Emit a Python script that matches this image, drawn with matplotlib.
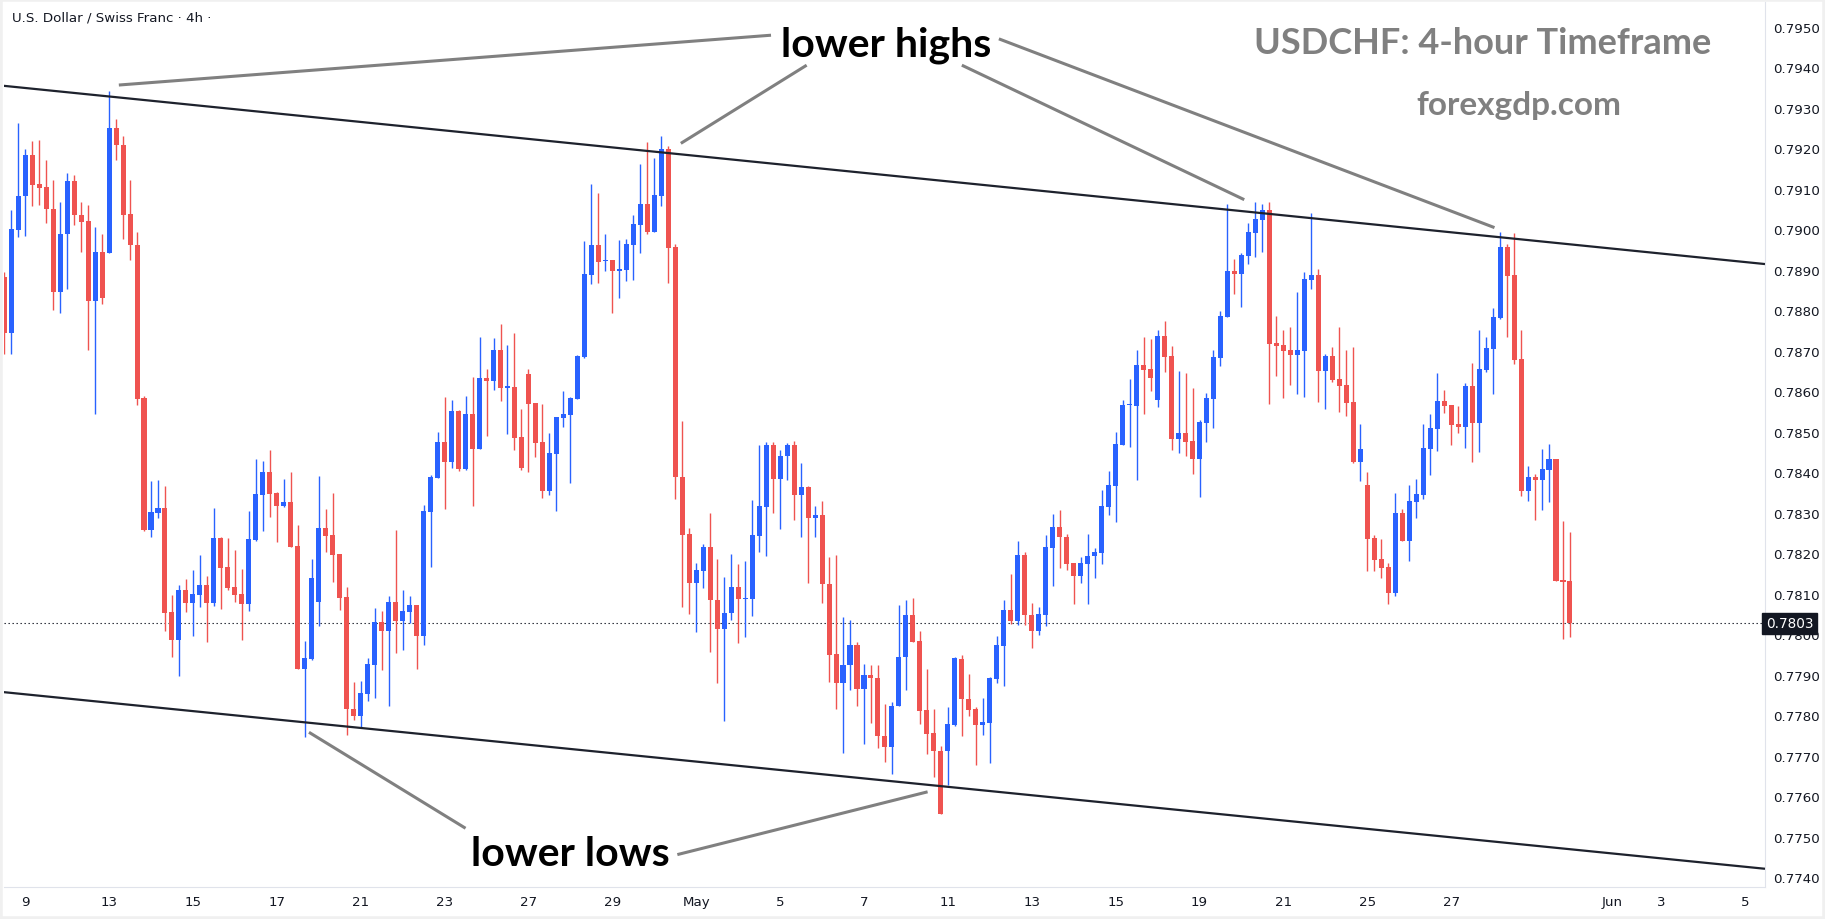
import matplotlib.pyplot as plt
import numpy as np

# 4h USDCHF candles (open, high, low, close)
opens = [
    0.78882, 0.78745, 0.78999, 0.79081, 0.79183, 0.79112, 0.79105, 0.79050, 0.78846, 0.78987,
    0.79119, 0.79036, 0.79020, 0.78824, 0.78944, 0.78942, 0.79250, 0.79208, 0.79037, 0.78961,
    0.78583, 0.78258, 0.78300, 0.78312, 0.78055, 0.77987, 0.78110, 0.78078, 0.78098, 0.78122,
    0.78078, 0.78237, 0.78167, 0.78116, 0.78099, 0.78075, 0.78233, 0.78344, 0.78400, 0.78348,
    0.78317, 0.78326, 0.78218, 0.77915, 0.77939, 0.78080, 0.78262, 0.78245, 0.78198, 0.78092,
    0.77816, 0.77799, 0.77852, 0.77924, 0.78030, 0.78009, 0.78079, 0.78033, 0.78055, 0.78072,
    0.77996, 0.78302, 0.78386, 0.78474, 0.78425, 0.78551, 0.78408, 0.78544, 0.78458, 0.78633,
    0.78626, 0.78702, 0.78609, 0.78610, 0.78487, 0.78642, 0.78571, 0.78475, 0.78354, 0.78446,
    0.78535, 0.78542, 0.78581, 0.78684, 0.78888, 0.78961, 0.78922, 0.78923, 0.78897, 0.78900,
    0.78962, 0.79011, 0.79062, 0.78993, 0.79083, 0.79198, 0.78956, 0.78389, 0.78248, 0.78127,
    0.78157, 0.78215, 0.78085, 0.78014, 0.78052, 0.78117, 0.78087, 0.78087, 0.78243, 0.78315,
    0.78467, 0.78383, 0.78439, 0.78467, 0.78343, 0.78364, 0.78286, 0.78294, 0.78125, 0.77951,
    0.77879, 0.77925, 0.77973, 0.77866, 0.77899, 0.77893, 0.77750, 0.77722, 0.77824, 0.77944,
    0.78047, 0.77983, 0.77813, 0.77756, 0.77713, 0.77713, 0.77776, 0.77938, 0.77841, 0.77816,
    0.77776, 0.77782, 0.77890, 0.77970, 0.78060, 0.78033, 0.78196, 0.78047, 0.78009, 0.78048,
    0.78213, 0.78265, 0.78241, 0.78175, 0.78145, 0.78174, 0.78192, 0.78201, 0.78315, 0.78367,
    0.78468, 0.78565, 0.78564, 0.78665, 0.78655, 0.78579, 0.78736, 0.78687, 0.78483, 0.78497,
    0.78477, 0.78433, 0.78521, 0.78581, 0.78682, 0.78783, 0.78897, 0.78889, 0.78935, 0.78991,
    0.79023, 0.79047, 0.78719, 0.78714, 0.78702, 0.78690, 0.78700, 0.78875, 0.78887, 0.78651,
    0.78687, 0.78630, 0.78615, 0.78573, 0.78426, 0.78368, 0.78237, 0.78186, 0.78167, 0.78103,
    0.78300, 0.78231, 0.78327, 0.78345, 0.78458, 0.78507, 0.78577, 0.78566, 0.78519, 0.78512,
    0.78613, 0.78522, 0.78653, 0.78705, 0.78781, 0.78956, 0.78887, 0.78679, 0.78354, 0.78389,
    0.78382, 0.78406, 0.78433, 0.78132, 0.78132,
]
highs = [
    0.78895, 0.79048, 0.79262, 0.79198, 0.79218, 0.79221, 0.79171, 0.79122, 0.79068, 0.79139,
    0.79134, 0.79068, 0.79060, 0.79005, 0.78988, 0.79341, 0.79272, 0.79230, 0.79122, 0.78993,
    0.78589, 0.78378, 0.78381, 0.78366, 0.78097, 0.78122, 0.78136, 0.78159, 0.78196, 0.78144,
    0.78312, 0.78240, 0.78237, 0.78208, 0.78161, 0.78304, 0.78432, 0.78428, 0.78455, 0.78350,
    0.78383, 0.78400, 0.78270, 0.77984, 0.78186, 0.78390, 0.78309, 0.78348, 0.78198, 0.78116,
    0.77882, 0.77884, 0.77941, 0.78065, 0.78057, 0.78094, 0.78257, 0.78109, 0.78094, 0.78072,
    0.78319, 0.78393, 0.78499, 0.78586, 0.78578, 0.78554, 0.78588, 0.78636, 0.78734, 0.78655,
    0.78731, 0.78766, 0.78714, 0.78744, 0.78556, 0.78655, 0.78571, 0.78568, 0.78498, 0.78537,
    0.78601, 0.78587, 0.78690, 0.78972, 0.79112, 0.79089, 0.78988, 0.78923, 0.78973, 0.78976,
    0.79035, 0.79161, 0.79215, 0.79176, 0.79230, 0.79206, 0.78963, 0.78526, 0.78262, 0.78176,
    0.78222, 0.78299, 0.78186, 0.78141, 0.78199, 0.78173, 0.78180, 0.78331, 0.78468, 0.78475,
    0.78474, 0.78455, 0.78472, 0.78477, 0.78423, 0.78367, 0.78317, 0.78328, 0.78191, 0.78196,
    0.78043, 0.78035, 0.77981, 0.77926, 0.77925, 0.77925, 0.77828, 0.77832, 0.78073, 0.78084,
    0.78089, 0.78008, 0.77914, 0.77816, 0.77724, 0.77820, 0.77944, 0.77949, 0.77902, 0.77820,
    0.77843, 0.77894, 0.77996, 0.78085, 0.78150, 0.78231, 0.78203, 0.78078, 0.78067, 0.78245,
    0.78297, 0.78306, 0.78248, 0.78175, 0.78191, 0.78248, 0.78213, 0.78356, 0.78403, 0.78499,
    0.78579, 0.78630, 0.78702, 0.78735, 0.78729, 0.78751, 0.78773, 0.78712, 0.78650, 0.78645,
    0.78608, 0.78529, 0.78596, 0.78702, 0.78798, 0.79062, 0.78926, 0.78941, 0.79015, 0.79067,
    0.79062, 0.79067, 0.78786, 0.78751, 0.78758, 0.78845, 0.78894, 0.79040, 0.78902, 0.78692,
    0.78709, 0.78758, 0.78702, 0.78709, 0.78519, 0.78400, 0.78245, 0.78235, 0.78177, 0.78349,
    0.78310, 0.78369, 0.78384, 0.78520, 0.78544, 0.78645, 0.78604, 0.78566, 0.78563, 0.78620,
    0.78670, 0.78751, 0.78734, 0.78805, 0.78993, 0.78963, 0.78990, 0.78751, 0.78416, 0.78396,
    0.78458, 0.78470, 0.78433, 0.78280, 0.78253,
]
lows = [
    0.78692, 0.78691, 0.78982, 0.78984, 0.79057, 0.79060, 0.79016, 0.78800, 0.78792, 0.78853,
    0.79010, 0.78944, 0.78703, 0.78545, 0.78816, 0.78942, 0.79171, 0.78977, 0.78925, 0.78567,
    0.78255, 0.78241, 0.78288, 0.78008, 0.77944, 0.77897, 0.78056, 0.77996, 0.78067, 0.77982,
    0.78069, 0.78063, 0.78110, 0.78080, 0.77986, 0.78058, 0.78231, 0.78255, 0.78290, 0.78228,
    0.78315, 0.78216, 0.77915, 0.77747, 0.77936, 0.78021, 0.78204, 0.78129, 0.78060, 0.77752,
    0.77789, 0.77772, 0.77836, 0.77843, 0.77912, 0.77823, 0.77954, 0.77962, 0.78028, 0.77915,
    0.77974, 0.78167, 0.78386, 0.78309, 0.78410, 0.78404, 0.78406, 0.78317, 0.78458, 0.78490,
    0.78604, 0.78577, 0.78494, 0.78456, 0.78406, 0.78401, 0.78438, 0.78337, 0.78345, 0.78305,
    0.78512, 0.78374, 0.78581, 0.78682, 0.78865, 0.78868, 0.78897, 0.78794, 0.78831, 0.78873,
    0.78875, 0.78942, 0.78988, 0.78993, 0.79058, 0.78867, 0.78333, 0.78068, 0.78050, 0.78006,
    0.78113, 0.77955, 0.77879, 0.77786, 0.78034, 0.77979, 0.77992, 0.78044, 0.78202, 0.78194,
    0.78299, 0.78260, 0.78382, 0.78283, 0.78241, 0.78127, 0.78241, 0.78078, 0.77881, 0.77816,
    0.77706, 0.77862, 0.77823, 0.77730, 0.77781, 0.77720, 0.77685, 0.77655, 0.77824, 0.77862,
    0.77981, 0.77779, 0.77705, 0.77647, 0.77555, 0.77629, 0.77773, 0.77749, 0.77799, 0.77677,
    0.77752, 0.77681, 0.77879, 0.77873, 0.78025, 0.78024, 0.78024, 0.77966, 0.77998, 0.78020,
    0.78118, 0.78164, 0.78158, 0.78075, 0.78127, 0.78075, 0.78140, 0.78174, 0.78294, 0.78276,
    0.78467, 0.78463, 0.78381, 0.78544, 0.78601, 0.78562, 0.78648, 0.78455, 0.78447, 0.78440,
    0.78396, 0.78340, 0.78475, 0.78509, 0.78662, 0.78783, 0.78840, 0.78808, 0.78914, 0.78931,
    0.78944, 0.78568, 0.78637, 0.78583, 0.78615, 0.78593, 0.78586, 0.78852, 0.78573, 0.78556,
    0.78623, 0.78549, 0.78539, 0.78423, 0.78378, 0.78157, 0.78157, 0.78140, 0.78075, 0.78095,
    0.78231, 0.78182, 0.78288, 0.78335, 0.78394, 0.78453, 0.78547, 0.78468, 0.78498, 0.78460,
    0.78426, 0.78451, 0.78648, 0.78594, 0.78778, 0.78735, 0.78668, 0.78342, 0.78330, 0.78283,
    0.78307, 0.78327, 0.78132, 0.77989, 0.77994,
]
closes = [
    0.78745, 0.79001, 0.79082, 0.79183, 0.79110, 0.79103, 0.79049, 0.78846, 0.78988, 0.79119,
    0.79034, 0.79019, 0.78824, 0.78944, 0.78830, 0.79250, 0.79207, 0.79036, 0.78960, 0.78582,
    0.78258, 0.78301, 0.78312, 0.78053, 0.77987, 0.78110, 0.78078, 0.78099, 0.78122, 0.78078,
    0.78237, 0.78164, 0.78115, 0.78097, 0.78075, 0.78235, 0.78346, 0.78400, 0.78347, 0.78317,
    0.78326, 0.78216, 0.77915, 0.77941, 0.78139, 0.78262, 0.78242, 0.78195, 0.78089, 0.77816,
    0.77799, 0.77855, 0.77926, 0.78030, 0.78009, 0.78079, 0.78033, 0.78057, 0.78072, 0.77996,
    0.78304, 0.78388, 0.78474, 0.78425, 0.78551, 0.78408, 0.78544, 0.78458, 0.78633, 0.78626,
    0.78702, 0.78609, 0.78610, 0.78485, 0.78411, 0.78568, 0.78473, 0.78354, 0.78448, 0.78537,
    0.78544, 0.78584, 0.78687, 0.78889, 0.78961, 0.78920, 0.78923, 0.78897, 0.78902, 0.78963,
    0.79013, 0.79062, 0.78993, 0.79084, 0.79198, 0.78954, 0.78389, 0.78245, 0.78127, 0.78158,
    0.78215, 0.78085, 0.78014, 0.78053, 0.78117, 0.78087, 0.78090, 0.78245, 0.78316, 0.78467,
    0.78383, 0.78440, 0.78467, 0.78343, 0.78364, 0.78286, 0.78294, 0.78125, 0.77949, 0.77879,
    0.77925, 0.77973, 0.77866, 0.77899, 0.77893, 0.77750, 0.77722, 0.77824, 0.77945, 0.78047,
    0.77981, 0.77811, 0.77754, 0.77713, 0.77555, 0.77778, 0.77941, 0.77839, 0.77813, 0.77776,
    0.77783, 0.77891, 0.77973, 0.78060, 0.78033, 0.78196, 0.78047, 0.78009, 0.78050, 0.78215,
    0.78265, 0.78239, 0.78174, 0.78145, 0.78175, 0.78193, 0.78202, 0.78317, 0.78368, 0.78470,
    0.78565, 0.78567, 0.78665, 0.78653, 0.78633, 0.78736, 0.78685, 0.78483, 0.78497, 0.78475,
    0.78433, 0.78524, 0.78583, 0.78684, 0.78786, 0.78897, 0.78889, 0.78936, 0.78993, 0.79025,
    0.79047, 0.78717, 0.78712, 0.78700, 0.78690, 0.78702, 0.78877, 0.78887, 0.78651, 0.78687,
    0.78628, 0.78613, 0.78571, 0.78425, 0.78457, 0.78236, 0.78184, 0.78164, 0.78103, 0.78300,
    0.78231, 0.78330, 0.78346, 0.78460, 0.78510, 0.78577, 0.78564, 0.78517, 0.78512, 0.78613,
    0.78522, 0.78655, 0.78707, 0.78783, 0.78956, 0.78885, 0.78678, 0.78354, 0.78389, 0.78382,
    0.78409, 0.78433, 0.78132, 0.78130, 0.78027,
]

# date labels on the time axis (bar index -> label)
tick_idx = [3, 15, 27, 39, 51, 63, 75, 87, 99, 111, 123, 135, 147, 159, 171, 183, 195, 207, 230, 237, 249]
tick_lbl = ['9', '13', '15', '17', '21', '23', '27', '29', 'May', '5', '7', '11', '13', '15',
            '19', '21', '25', '27', 'Jun', '3', '5']

price_ticks = np.arange(0.7740, 0.79505, 0.0010)

# drawn channel (bar index, price)
upper_x = [-0.6, 251.9]
upper_y = [0.79355, 0.78914]
lower_x = [-0.6, 251.9]
lower_y = [0.77858, 0.77421]

# grey pointer lines (bar index, price)
pointers = [
    ([16.4, 109.7], [0.79356, 0.79479]),
    ([114.8, 96.8], [0.79405, 0.79212]),
    ([137.0, 177.4], [0.79405, 0.79073]),
    ([142.3, 213.2], [0.79470, 0.79004]),
    ([43.6, 66.0], [0.77758, 0.77521]),
    ([96.3, 132.1], [0.77456, 0.77611]),
]

W, H = 1825, 920
BLUE = '#2962ff'
RED = '#ef5350'
TXT = '#131722'


def fx(px):
    return px / W


def fy(py):
    return 1 - py / H


fig = plt.figure(figsize=(W / 100, H / 100), dpi=100)
fig.patch.set_facecolor('white')

# plot area in pixels: x 4..1765, y 3..888
ax = fig.add_axes([fx(4), fy(888), (1765 - 4) / W, (888 - 3) / H])
ax.set_facecolor('white')

o = np.array(opens)
h = np.array(highs)
l = np.array(lows)
c = np.array(closes)
x = np.arange(len(o))
cols = np.where(c >= o, BLUE, RED)

ax.vlines(x, l, h, colors=cols, linewidth=1.0, zorder=2)
body = np.maximum(np.abs(c - o), 0.00003)
ax.bar(x, body, bottom=np.minimum(o, c), width=0.72, color=cols, linewidth=0, zorder=3)

ax.set_xlim(-0.03, 251.9)
ax.set_ylim(0.77376, 0.79561)

# channel lines
ax.plot(upper_x, upper_y, color='#1e222d', linewidth=1.6, zorder=4, solid_capstyle='butt')
ax.plot(lower_x, lower_y, color='#1e222d', linewidth=1.6, zorder=4, solid_capstyle='butt')

for px_, py_ in pointers:
    ax.plot(px_, py_, color='#808080', linewidth=2.2, zorder=4, solid_capstyle='butt')

# last price dotted line + badge
last = closes[-1]
ax.axhline(last, color=TXT, linewidth=0.8, linestyle=(0, (1.2, 2.4)), zorder=1)
ax.text(1.0 + 1 / 1761, last, '%.4f' % last, transform=ax.get_yaxis_transform(),
        ha='left', va='center', color='white', fontsize=9.8, zorder=10, clip_on=False,
        bbox=dict(boxstyle='square,pad=0.28', facecolor=TXT, edgecolor=TXT))

# axes styling
for s in ['top', 'left']:
    ax.spines[s].set_visible(False)
ax.spines['right'].set_color('#e0e3eb')
ax.spines['bottom'].set_color('#e0e3eb')
ax.yaxis.tick_right()
ax.set_yticks(price_ticks)
ax.set_yticklabels(['%.4f' % v for v in price_ticks])
ax.set_xticks(tick_idx)
ax.set_xticklabels(tick_lbl)
ax.tick_params(axis='y', length=0, pad=6, labelsize=9.6, labelcolor=TXT)
ax.tick_params(axis='x', length=0, pad=6, labelsize=9.6, labelcolor=TXT)

# texts
fig.text(fx(12), fy(18), 'U.S. Dollar / Swiss Franc \u00b7 4h \u00b7', ha='left', va='center',
         fontsize=9.6, color=TXT, family='DejaVu Sans')
fig.text(fx(1483), fy(44), 'USDCHF: 4-hour Timeframe', ha='center', va='center',
         fontsize=26, fontweight='bold', color='#808080', family='Lato')
fig.text(fx(1519), fy(106), 'forexgdp.com', ha='center', va='center',
         fontsize=24, fontweight='bold', color='#808080', family='Lato')
fig.text(fx(886), fy(45), 'lower highs', ha='center', va='center',
         fontsize=29.5, fontweight='bold', color='black', family='Lato')
fig.text(fx(570), fy(855), 'lower lows', ha='center', va='center',
         fontsize=29.5, fontweight='bold', color='black', family='Lato')

# outer light frame
fig.patches.append(plt.Rectangle((0, 0), 1, 1, transform=fig.transFigure, fill=False,
                                 edgecolor='#f0f0f0', linewidth=4, zorder=20))

fig.savefig('out.png', dpi=100, facecolor='white')
